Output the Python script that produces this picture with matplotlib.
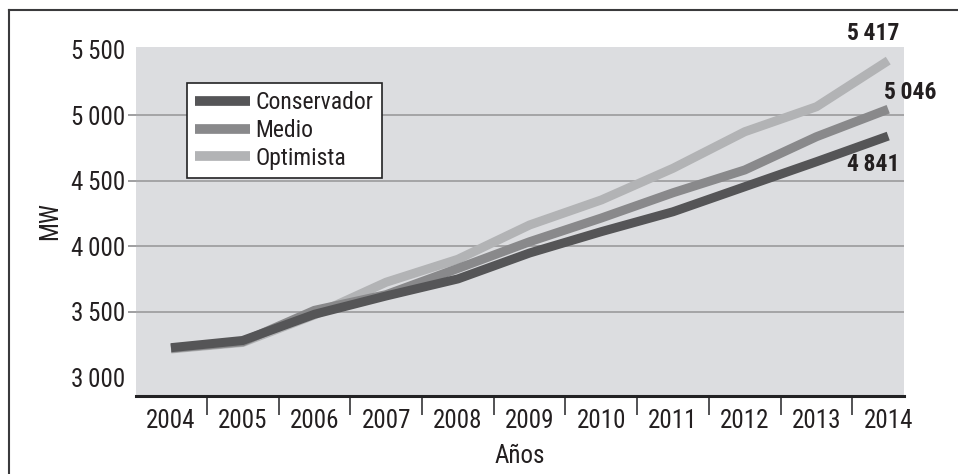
import matplotlib
matplotlib.use('Agg')
import matplotlib.pyplot as plt
from matplotlib.lines import Line2D
from matplotlib import font_manager
import numpy as np

# prefer a narrow face if one is around
names = {f.name for f in font_manager.fontManager.ttflist}
narrow = [n for n in ('Liberation Sans Narrow', 'Roboto Condensed', 'Open Sans Condensed',
                      'DejaVu Sans Condensed') if n in names]
plt.rcParams['font.family'] = narrow + ['DejaVu Sans']
plt.rcParams['font.stretch'] = 'condensed'

# Demand scenarios (MW)
years = ['2004', '2005', '2006', '2007', '2008', '2009', '2010', '2011', '2012', '2013', '2014']
conservador = [3225, 3280, 3480, 3620, 3750, 3948, 4111, 4263, 4454, 4645, 4841]
medio = [3220, 3270, 3510, 3630, 3830, 4034, 4215, 4408, 4582, 4836, 5046]
optimista = [3215, 3265, 3475, 3725, 3900, 4162, 4353, 4595, 4874, 5065, 5417]

y_ticks = [3000, 3500, 4000, 4500, 5000, 5500]

C_DARK = '#555557'
C_MID = '#89898b'
C_LIGHT = '#b2b3b5'
TXT = '#231f20'


def fmt(v):
    # thousands split by a thin space
    return f'{v:,}'.replace(',', '\u2009')


W, H = 958, 474
fig = plt.figure(figsize=(W / 100, H / 100), dpi=100)
ax = fig.add_axes([136 / W, 1 - 396 / H, (904 - 136) / W, (396 - 47) / H])
ax.set_facecolor('#dcdde0')

x = np.arange(len(years))
lw = 6.5
ax.plot(x, optimista, color=C_LIGHT, lw=lw, solid_capstyle='butt', solid_joinstyle='miter', zorder=3)
ax.plot(x, medio, color=C_MID, lw=lw, solid_capstyle='butt', solid_joinstyle='miter', zorder=4)
ax.plot(x, conservador, color=C_DARK, lw=lw, solid_capstyle='butt', solid_joinstyle='miter', zorder=5)

ax.set_xlim(-0.488, 10.22)
ax.set_ylim(2856, 5521)

# y axis: grid only inside the range
ax.set_yticks(y_ticks)
ax.set_yticklabels([fmt(v) for v in y_ticks], fontsize=18, color=TXT)
ax.tick_params(axis='y', length=6, width=1.2, color='#8f8f91', pad=2)
ax.yaxis.grid(True, color='#9a9a9c', lw=1.2)
ax.set_axisbelow(True)
gl = ax.yaxis.get_gridlines()
ticks = ax.yaxis.get_major_ticks()
for i in (0, len(y_ticks) - 1):
    gl[i].set_visible(False)
    ticks[i].tick1line.set_visible(False)

# x axis: labels centred on years, separators between them
ax.set_xticks(x)
ax.set_xticklabels(years, fontsize=18, color=TXT)
ax.tick_params(axis='x', length=0, pad=9)
ax.set_xticks(x[:-1] + 0.5, minor=True)
ax.tick_params(axis='x', which='minor', length=14, width=1.3, color='#444446', direction='out')

for s in ('left', 'right', 'top'):
    ax.spines[s].set_visible(False)
ax.spines['bottom'].set_linewidth(2.2)
ax.spines['bottom'].set_color('#222224')

ax.set_ylabel('MW', fontsize=18, color=TXT, labelpad=6)
ax.set_xlabel('Años', fontsize=18, color=TXT, labelpad=8)

# end values
ax.annotate(fmt(optimista[-1]), (x[-1], optimista[-1]), xytext=(8, 11),
            textcoords='offset points', ha='right', va='bottom', fontsize=17, fontweight='bold', color=TXT)
ax.annotate(fmt(medio[-1]), (x[-1], medio[-1]), xytext=(-3, 4),
            textcoords='offset points', ha='left', va='bottom', fontsize=17, fontweight='bold', color=TXT,
            annotation_clip=False)
ax.annotate(fmt(conservador[-1]), (x[-1], conservador[-1]), xytext=(8, -12),
            textcoords='offset points', ha='right', va='top', fontsize=17, fontweight='bold', color=TXT)

handles = [Line2D([], [], color=C_DARK, lw=7, solid_capstyle='butt'),
           Line2D([], [], color=C_MID, lw=7, solid_capstyle='butt'),
           Line2D([], [], color=C_LIGHT, lw=7, solid_capstyle='butt')]
leg = ax.legend(handles, ['Conservador', 'Medio', 'Optimista'], loc='upper left',
                bbox_to_anchor=((187 - 136) / (904 - 136), 1 - (83 - 47) / (396 - 47)),
                fontsize=17, frameon=True, fancybox=False, edgecolor='#222224', framealpha=1,
                handlelength=2.3, handletextpad=0.25, labelspacing=0.2, borderpad=0.35,
                borderaxespad=0)
leg.get_frame().set_linewidth(1.2)
for t in leg.get_texts():
    t.set_color(TXT)

# outer frame (left and top edges)
fig.add_artist(Line2D([9 / W, 9 / W], [0, 1 - 10 / H], transform=fig.transFigure,
                      color='#3a3a3c', lw=1.5))
fig.add_artist(Line2D([9 / W, 1], [1 - 10 / H, 1 - 10 / H], transform=fig.transFigure,
                      color='#3a3a3c', lw=1.5))

fig.savefig('out.png', dpi=100, facecolor='white')
